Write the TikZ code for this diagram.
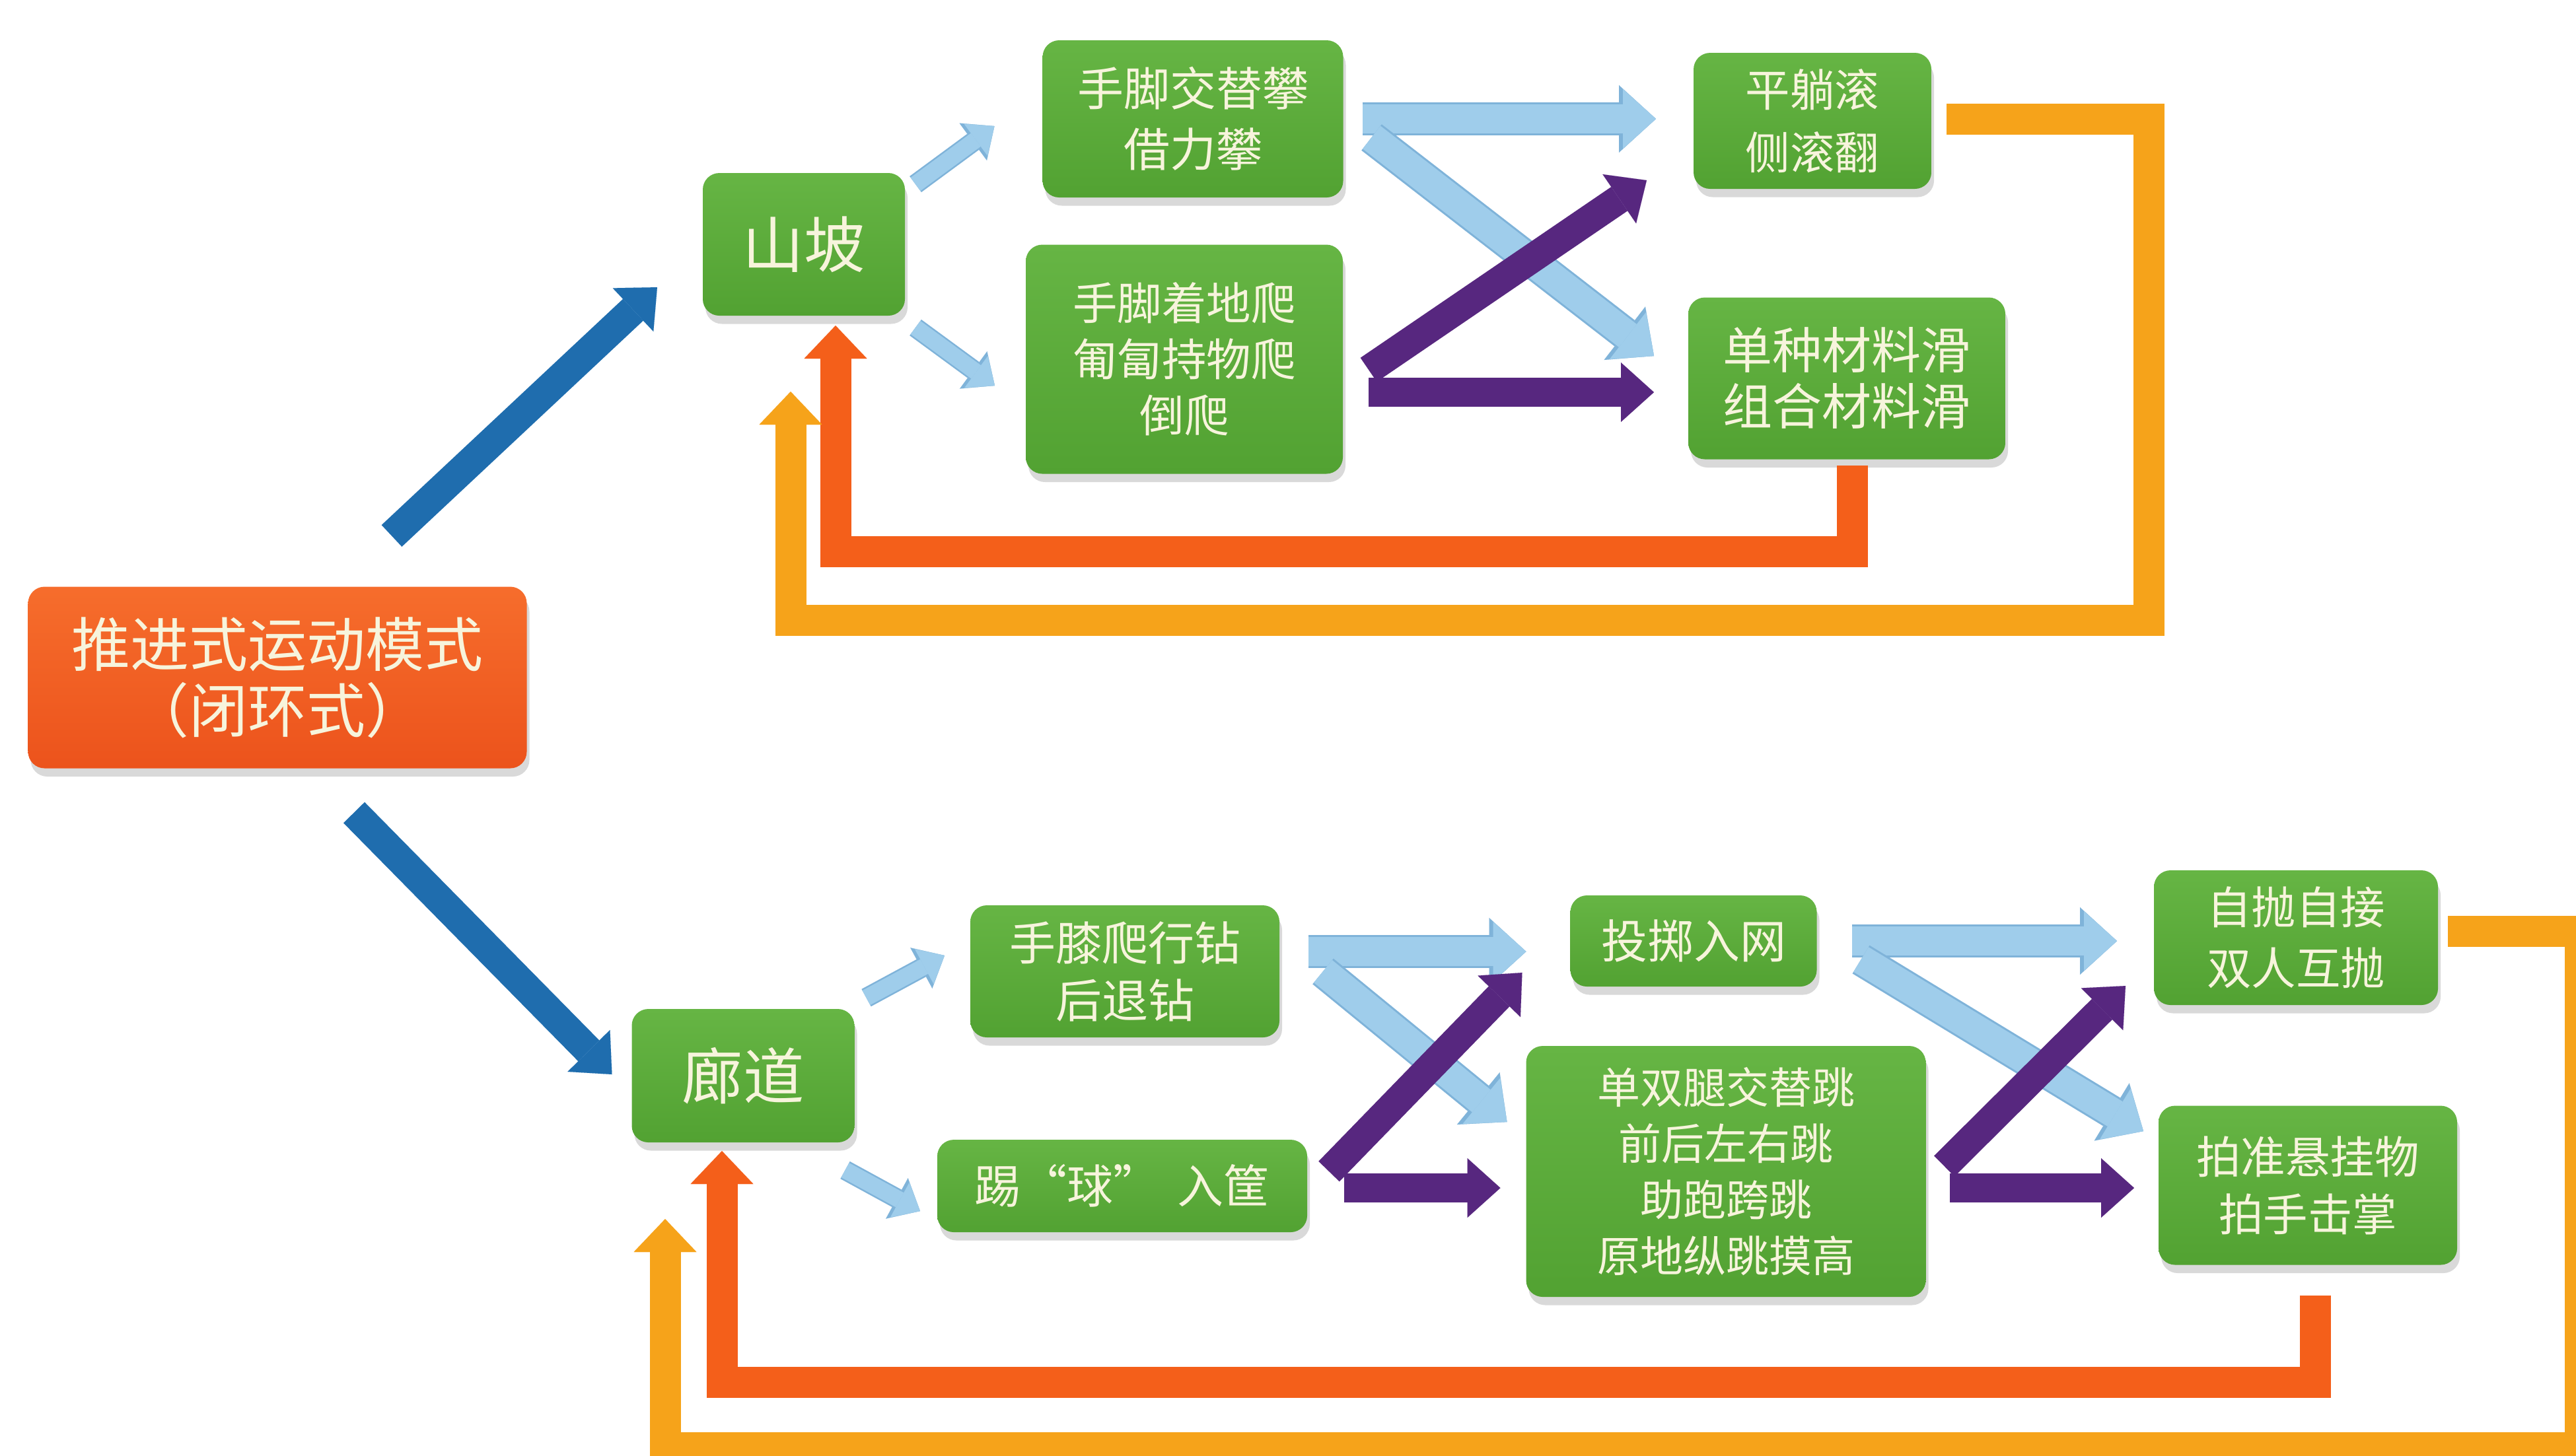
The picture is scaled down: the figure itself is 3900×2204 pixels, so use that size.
\documentclass[tikz,border=0pt]{standalone}
\usepackage{fontspec}
\newfontfamily\cjk{Noto Sans CJK SC}
\usetikzlibrary{arrows.meta,calc,shadows}
\definecolor{gA}{HTML}{66B544}
\definecolor{gB}{HTML}{52A232}
\definecolor{txt}{HTML}{F7F4DC}
\definecolor{orA}{HTML}{F66D2C}
\definecolor{orB}{HTML}{EC531C}
\definecolor{dblue}{HTML}{1F6DAE}
\definecolor{lblue}{HTML}{9FCDEB}
\definecolor{lbedge}{HTML}{7FB3D9}
\definecolor{purp}{HTML}{57277F}
\definecolor{redfb}{HTML}{F45F1A}
\definecolor{yelfb}{HTML}{F6A31A}
\begin{document}
\begin{tikzpicture}[x=0.2pt,y=-0.2pt,
  box/.style={rounded corners=5pt, top color=gA, bottom color=gB, draw=none,
    text=txt, align=center, inner sep=0pt,
    drop shadow={shadow xshift=0.8pt,shadow yshift=-2.5pt,opacity=0.3}},
  rootbox/.style={box, top color=orA, bottom color=orB},
  bigarrow/.style={line width=8.8pt, -{Triangle[width=18pt,length=10pt,line width=0.01pt]}},
  lb/.style={bigarrow, draw=lblue,
    preaction={draw=lbedge, line width=10pt, -{Triangle[width=20.4pt,length=11.2pt,line width=0.01pt]}}},
  pu/.style={bigarrow, draw=purp},
  db/.style={bigarrow, draw=dblue, line width=9pt},
  sm/.style={draw=lblue, line width=5pt, -{Triangle[width=12pt,length=7pt,line width=0.01pt]},
    preaction={draw=lbedge, line width=6pt, -{Triangle[width=14pt,length=8pt,line width=0.01pt]}}},
  fb/.style={line width=9.4pt, line join=miter, -{Triangle[width=19pt,length=10pt,line width=0.01pt]}}
]
\path[use as bounding box] (0,0) rectangle (3900,2204);
\clip (0,0) rectangle (3900,2204);

% nodes
\node[rootbox, minimum width=151pt, minimum height=55pt,
  font=\cjk\fontsize{17.8}{20}\selectfont] (R) at (420,1026) {推进式运动模式\\（闭环式）};

\node[box, minimum width=61.2pt, minimum height=43.2pt,
  font=\cjk\fontsize{18.5}{22}\selectfont] (S) at (1217,370) {山坡};
\node[box, minimum width=91pt, minimum height=47.6pt,
  font=\cjk\fontsize{14}{18.4}\selectfont] (A1) at (1806,180) {手脚交替攀\\借力攀};
\node[box, minimum width=96pt, minimum height=69.4pt,
  font=\cjk\fontsize{13.5}{17}\selectfont] (A2) at (1793,544) {手脚着地爬\\匍匐持物爬\\倒爬};
\node[box, minimum width=72pt, minimum height=41.2pt,
  font=\cjk\fontsize{13.5}{19}\selectfont] (B1) at (2744,183) {平躺滚\\侧滚翻};
\node[box, minimum width=96pt, minimum height=49pt,
  font=\cjk\fontsize{15}{17}\selectfont] (B2) at (2796,573) {单种材料滑\\组合材料滑};

\node[box, minimum width=67.4pt, minimum height=40.4pt,
  font=\cjk\fontsize{18.5}{22}\selectfont] (L) at (1125,1629) {廊道};
\node[box, minimum width=93.6pt, minimum height=40pt,
  font=\cjk\fontsize{14}{17.4}\selectfont] (C1) at (1703,1471) {手膝爬行钻\\后退钻};
\node[box, minimum width=112pt, minimum height=28pt,
  font=\cjk\fontsize{14}{16}\selectfont] (C2) at (1699,1796) {踢“球”\hspace{0.4em}入筐};
\node[box, minimum width=74.6pt, minimum height=27.6pt,
  font=\cjk\fontsize{14}{17}\selectfont] (D1) at (2564,1425) {投掷入网};
\node[box, minimum width=121pt, minimum height=76pt,
  font=\cjk\fontsize{13}{17}\selectfont] (D2) at (2613,1774) {单双腿交替跳\\前后左右跳\\助跑跨跳\\原地纵跳摸高};
\node[box, minimum width=86pt, minimum height=40.8pt,
  font=\cjk\fontsize{13.5}{18.4}\selectfont] (E1) at (3476,1420) {自抛自接\\双人互抛};
\node[box, minimum width=90.4pt, minimum height=48.2pt,
  font=\cjk\fontsize{13.5}{17.4}\selectfont] (E2) at (3494,1795) {拍准悬挂物\\拍手击掌};

% dark blue arrows from root
\draw[db] ($(R.north)+(173,-76)$) -- ($(S.west)+(-68,65)$);
\draw[db] ($(R.south)+(116,66)$) -- ($(L.west)+(-29,-2)$);

% top section
\draw[sm] ($(S.north east)+(15,18)$) -- ($(A1.west)+(-72,11)$);
\draw[sm] ($(S.south east)+(15,17)$) -- ($(A2.west)+(-46,40)$);
\draw[lb] ($(A1.east)+(28,0)$) -- ($(A1.east -| B1.west)+(-56,0)$);
\draw[lb] ($(A1.east)+(42,28)$) -- ($(B2.west)+(-51,-34)$);
\draw[pu] ($(A2.east)+(38,16)$) -- ($(B1.south west)+(-70,-14)$);
\draw[pu] ($(A2.east)+(38,50)$) -- ($(A2.east -| B2.west)+(-51,50)$);

\draw[fb, draw=redfb] ($(B2.south)+(8,8)$) -- ++(0,131) -| ($(S.south)+(48,14)$);
\draw[fb, draw=yelfb] ($(B1.east)+(22,-3)$) -| ++(306,759) -| ($(S.south)+(-20,114)$);

% bottom section
\draw[sm] ($(L.north east)+(17,-16)$) -- ($(C1.west)+(-38,-24)$);
\draw[sm] ($(L.south east)+(-15,41)$) -- ($(C2.west)+(-25,38)$);
\draw[lb] ($(C1.east)+(43,-30)$) -- ($(C1.east -| D1.west)+(-66,-30)$);
\draw[lb] ($(C1.east)+(65,0)$) -- ($(D2.west)+(-28,-75)$);
\draw[pu] ($(C2.east)+(32,-22)$) -- ($(D1.south west)+(-72,-22)$);
\draw[pu] ($(C2.east)+(55,3)$) -- ($(C2.east -| D2.west)+(-38,3)$);
\draw[lb] ($(D1.east)+(52,0)$) -- ($(D1.east -| E1.west)+(-55,0)$);
\draw[lb] ($(D1.east)+(66,28)$) -- ($(E2.west)+(-22,-82)$);
\draw[pu] ($(D2.east)+(27,-8)$) -- ($(E1.south west)+(-42,-30)$);
\draw[pu] ($(D2.east)+(35,25)$) -- ($(D2.east -| E2.west)+(-36,25)$);

\draw[fb, draw=redfb] ($(E2.south)+(11,45)$) -- ++(0,132) -| ($(L.south)+(-32,12)$);
\draw[fb, draw=yelfb] ($(E1.east)+(14,-10)$) -| ++(200,782) -| ($(L.south)+(-118,115)$);
\end{tikzpicture}
\end{document}
